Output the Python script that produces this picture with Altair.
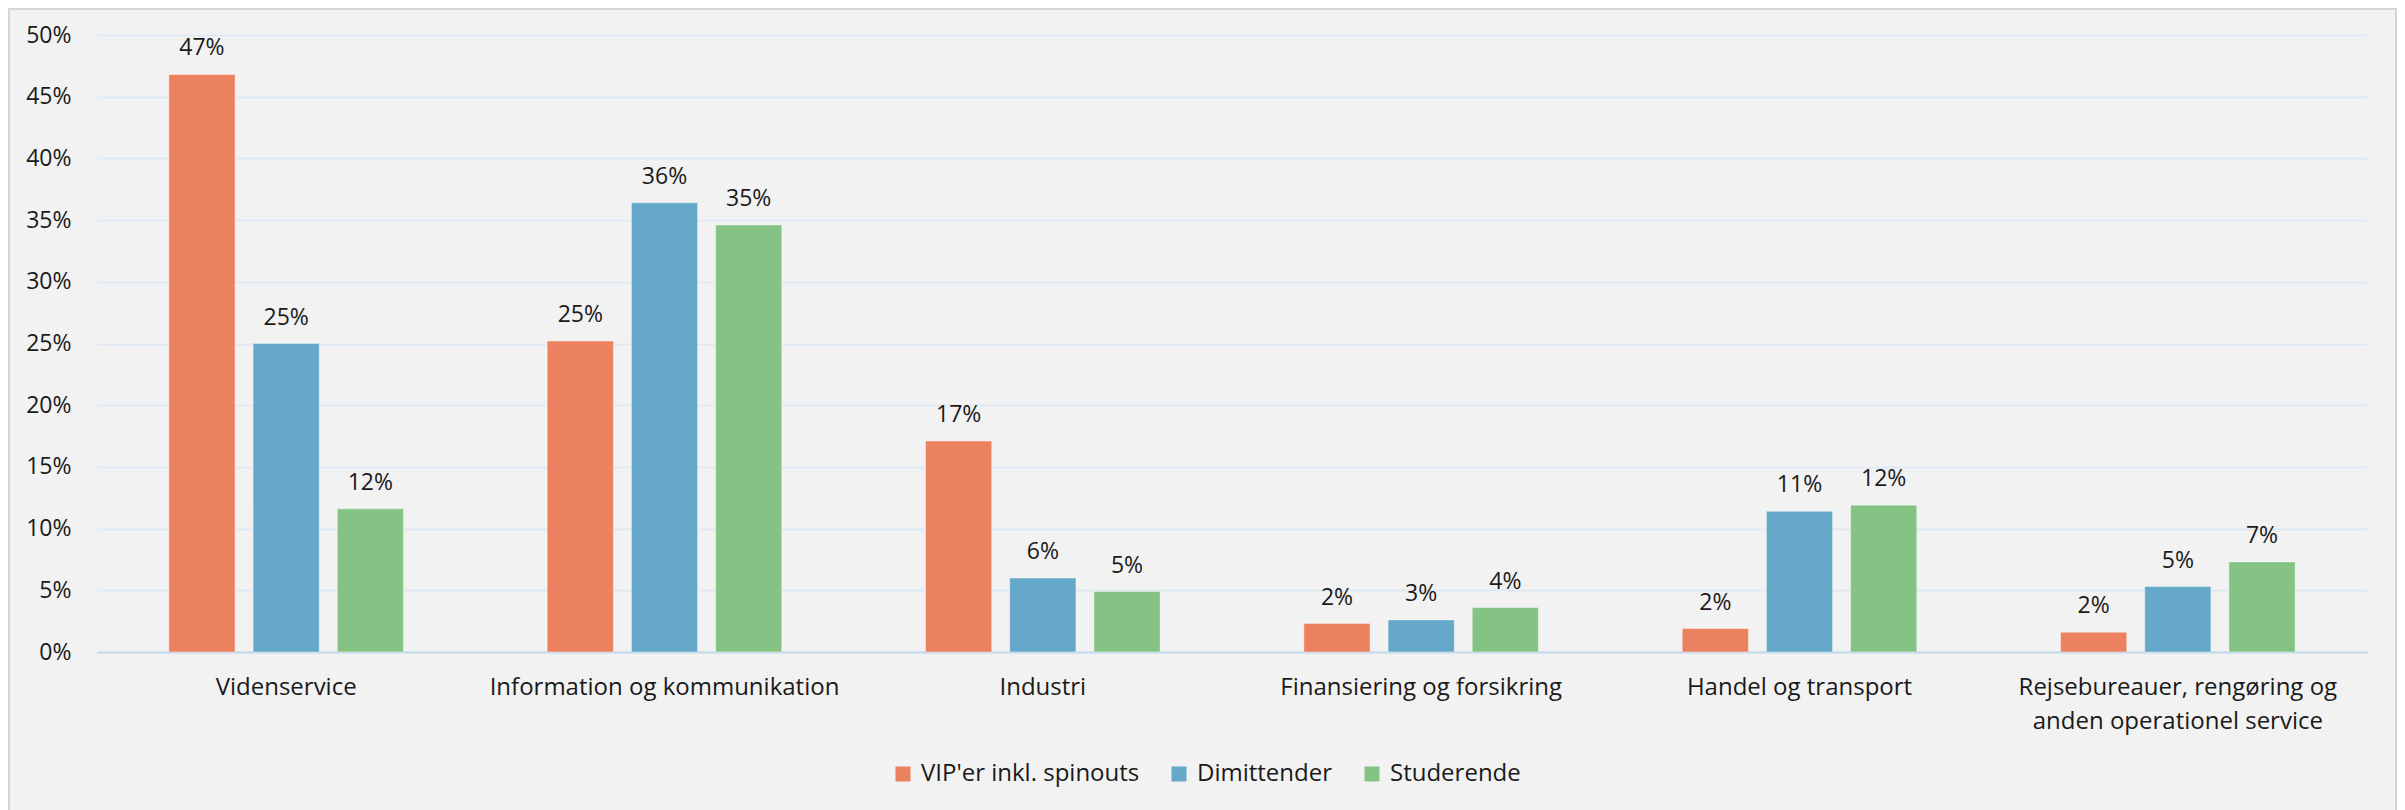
import altair as alt
import pandas as pd

categories = [
    "Videnservice",
    "Information og kommunikation",
    "Industri",
    "Finansiering og forsikring",
    "Handel og transport",
    "Rejsebureauer, rengøring og anden operationel service",
]
series = ["VIP'er inkl. spinouts", "Dimittender", "Studerende"]
vip = [46.8, 25.2, 17.1, 2.3, 1.9, 1.6]
dimittender = [25.0, 36.4, 6.0, 2.6, 11.4, 5.3]
studerende = [11.6, 34.6, 4.9, 3.6, 11.9, 7.3]
colors = ["#EC8160", "#65A8C9", "#85C385"]
y_ticks = [0, 5, 10, 15, 20, 25, 30, 35, 40, 45, 50]

rows = []
for s, vals in zip(series, [vip, dimittender, studerende]):
    for c, v in zip(categories, vals):
        rows.append({"Branche": c, "Gruppe": s, "Andel": v})
df = pd.DataFrame(rows)

FONT = "Open Sans"
FS = 23

x_enc = alt.X(
    "Branche:N",
    sort=categories,
    scale=alt.Scale(paddingInner=0.38, paddingOuter=0.19),
    axis=alt.Axis(
        title=None,
        labelAngle=0,
        labelFont=FONT,
        labelFontSize=24,
        labelColor="#1a1a1a",
        labelPadding=23,
        labelLineHeight=34,
        labelLimit=0,
        labelExpr="split(replace(datum.label, 'og anden', 'og|anden'), '|')",
        ticks=False,
        tickSize=0,
        domainColor="#c2d9ea",
        domainWidth=2,
        grid=False,
    ),
)
xoff = alt.XOffset("Gruppe:N", sort=series, scale=alt.Scale(paddingInner=0.214))
y_enc = alt.Y(
    "Andel:Q",
    scale=alt.Scale(domain=[0, 50], nice=False),
    axis=alt.Axis(
        title=None,
        values=y_ticks,
        labelExpr="datum.value + '%'",
        labelFont=FONT,
        labelFontSize=FS,
        labelColor="#1a1a1a",
        labelPadding=26,
        ticks=False,
        domain=False,
        gridColor="#dfe9f3",
        gridWidth=2,
    ),
)
color_enc = alt.Color(
    "Gruppe:N",
    sort=series,
    scale=alt.Scale(domain=series, range=colors),
    legend=alt.Legend(
        title=None,
        orient="none",
        direction="horizontal",
        legendX=794,
        legendY=727,
        symbolType="square",
        symbolSize=225,
        symbolStrokeWidth=0,
        labelFont=FONT,
        labelFontSize=24,
        labelColor="#1a1a1a",
        labelOffset=6,
        labelLimit=0,
        columnPadding=27,
    ),
)

bars = alt.Chart(df).mark_bar(stroke="white", strokeWidth=1, strokeOpacity=0.4).encode(
    x=x_enc, xOffset=xoff, y=y_enc, color=color_enc
)
labels = alt.Chart(df).mark_text(
    baseline="alphabetic", dy=-19, font=FONT, fontSize=FS, color="#1a1a1a"
).transform_calculate(
    txt="format(datum.Andel, '.0f') + '%'"
).encode(x=x_enc, xOffset=xoff, y=alt.Y("Andel:Q"), text="txt:N")

frame = alt.Chart(alt.Data(values=[{"a": 1}])).mark_rect(
    fillOpacity=0, stroke="#d4d4d4", strokeWidth=2
).encode(
    x=alt.value(-88), x2=alt.value(2299), y=alt.value(-26), y2=alt.value(790)
)

chart = alt.layer(bars, labels, frame).properties(
    width=2270,
    height=617,
    autosize=alt.AutoSizeParams(type="none"),
    padding={"left": 89, "top": 27, "right": 30, "bottom": 158},
    background="#f2f2f2",
).configure_view(stroke=None)

chart.save("out.html", embed_options={"renderer": "svg", "actions": False})
